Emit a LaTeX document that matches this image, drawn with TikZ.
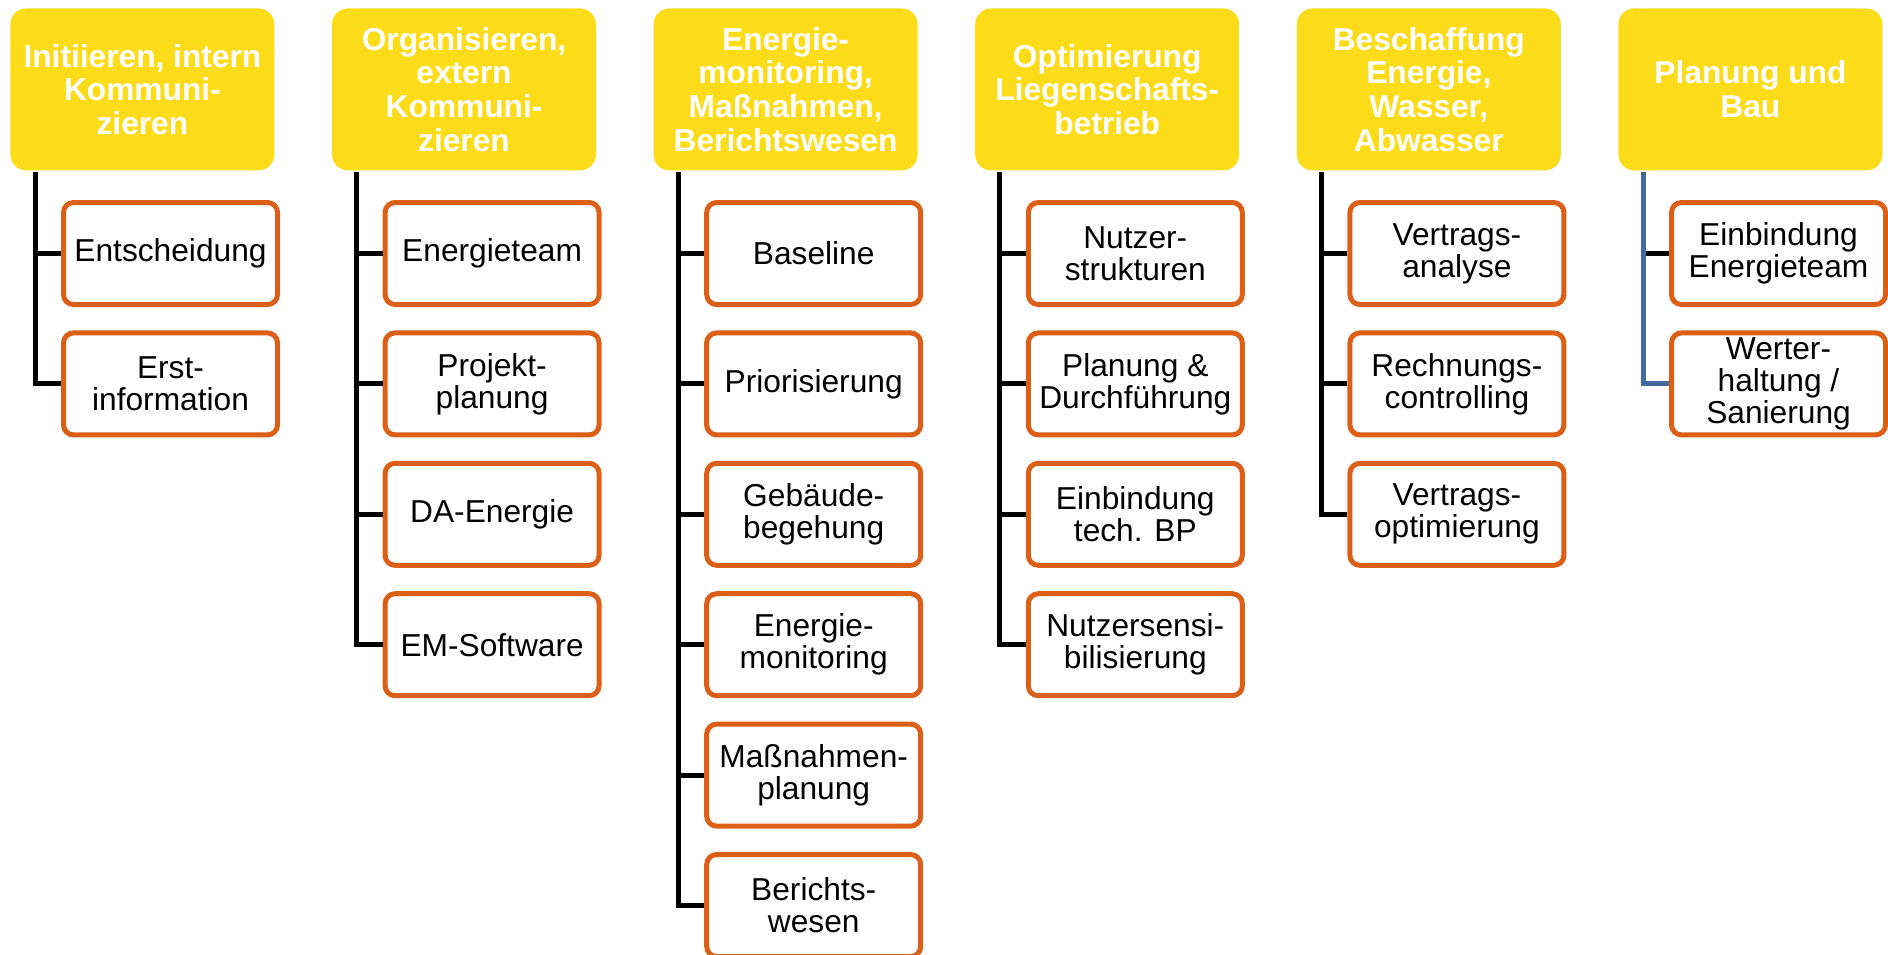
\documentclass[tikz,border=0pt]{standalone}
\usepackage{fontspec}
\setmainfont{Liberation Sans}
\definecolor{hy}{RGB}{252,219,24}
\definecolor{co}{RGB}{220,95,23}
\definecolor{lb}{RGB}{65,105,156}
\begin{document}
\begin{tikzpicture}[x=0.5pt,y=-0.5pt,
 head/.style={fill=hy, rounded corners=8pt, minimum width=132pt, minimum height=81pt, inner sep=0pt, align=center, text=white, font=\fontsize{15.85pt}{16.8pt}\selectfont\bfseries, anchor=north west},
 child/.style={draw=co, line width=2.5pt, fill=white, rounded corners=5pt, minimum width=107pt, minimum height=51pt, inner sep=0pt, align=center, font=\fontsize{15.85pt}{16pt}\selectfont, anchor=north west},
 conn/.style={line width=2.5pt, draw=black},
 connb/.style={line width=2.5pt, draw=lb}]
\useasboundingbox (0,0) rectangle (1888,954);

% headers
\node[head] (h1) at (10,8) {Initiieren, intern\\Kommuni-\\zieren};
\node[head] (h2) at (331.6,8) {Organisieren,\\extern\\Kommuni-\\zieren};
\node[head] (h3) at (653.2,8) {Energie-\\monitoring,\\Maßnahmen,\\Berichtswesen};
\node[head] (h4) at (974.8,8) {Optimierung\\Liegenschafts-\\betrieb};
\node[head] (h5) at (1296.4,8) {Beschaffung\\Energie,\\Wasser,\\Abwasser};
\node[head] (h6) at (1618,8) {Planung und\\Bau};

% vertical line start points
\coordinate (v1) at (35,172);
\coordinate (v2) at (356.6,172);
\coordinate (v3) at (678.2,172);
\coordinate (v4) at (999.8,172);
\coordinate (v5) at (1321.4,172);
\coordinate (v6) at (1643,172);

% column 1
\node[child] (c11) at (61,200) {Entscheidung};
\node[child] (c12) at (61,330.4) {Erst-\\information};
% column 2
\node[child] (c21) at (382.6,200) {Energieteam};
\node[child] (c22) at (382.6,330.4) {Projekt-\\planung};
\node[child] (c23) at (382.6,460.8) {DA-Energie};
\node[child] (c24) at (382.6,591.2) {EM-Software};
% column 3
\node[child] (c31) at (704.2,200) {Baseline};
\node[child] (c32) at (704.2,330.4) {Priorisierung};
\node[child] (c33) at (704.2,460.8) {Gebäude-\\begehung};
\node[child] (c34) at (704.2,591.2) {Energie-\\monitoring};
\node[child] (c35) at (704.2,721.6) {Maßnahmen-\\planung};
\node[child] (c36) at (704.2,852) {Berichts-\\wesen};
% column 4
\node[child] (c41) at (1025.8,200) {Nutzer-\\strukturen};
\node[child] (c42) at (1025.8,330.4) {Planung \&\\Durchführung};
\node[child] (c43) at (1025.8,460.8) {Einbindung\\tech. BP};
\node[child] (c44) at (1025.8,591.2) {Nutzersensi-\\bilisierung};
% column 5
\node[child] (c51) at (1347.4,200) {Vertrags-\\analyse};
\node[child] (c52) at (1347.4,330.4) {Rechnungs-\\controlling};
\node[child] (c53) at (1347.4,460.8) {Vertrags-\\optimierung};
% column 6
\node[child] (c61) at (1669,200) {Einbindung\\Energieteam};
\node[child] (c62) at (1669,330.4) {Werter-\\haltung /\\Sanierung};

% connectors
\draw[conn] (v1) |- (c12.west);
\draw[conn] (c11.west) -- (c11.west -| v1);

\draw[conn] (v2) |- (c24.west);
\foreach \c in {c21,c22,c23} \draw[conn] (\c.west) -- (\c.west -| v2);

\draw[conn] (v3) |- (c36.west);
\foreach \c in {c31,c32,c33,c34,c35} \draw[conn] (\c.west) -- (\c.west -| v3);

\draw[conn] (v4) |- (c44.west);
\foreach \c in {c41,c42,c43} \draw[conn] (\c.west) -- (\c.west -| v4);

\draw[conn] (v5) |- (c53.west);
\foreach \c in {c51,c52} \draw[conn] (\c.west) -- (\c.west -| v5);

\draw[conn] (c61.west) -- (c61.west -| v6);
\draw[connb] (v6) |- (c62.west);
\end{tikzpicture}
\end{document}
